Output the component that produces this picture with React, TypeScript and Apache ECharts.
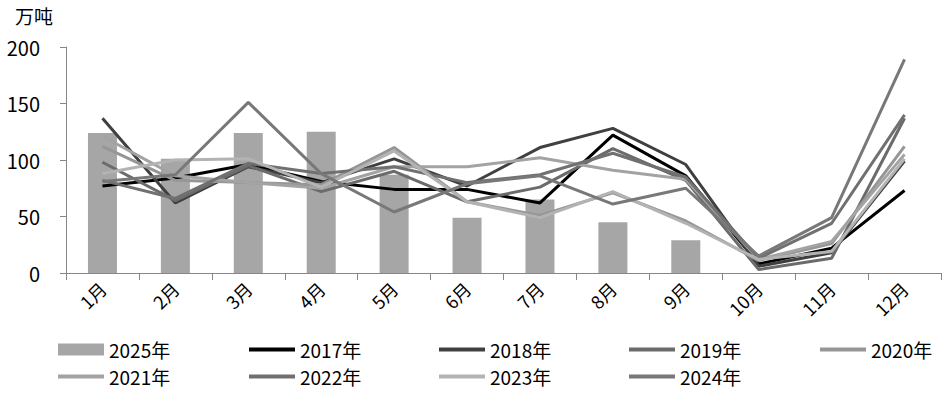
import React, { useEffect, useRef } from "react";
import * as echarts from "echarts";

const months = ["1月", "2月", "3月", "4月", "5月", "6月", "7月", "8月", "9月", "10月", "11月", "12月"];
const yTicks = [0, 50, 100, 150, 200];

const bar2025 = [124, 101, 124, 125, 87, 49, 65, 45, 29];

const y2017 = [77, 84, 96, 81, 74, 74, 62, 122, 86, 8, 22, 73];
const y2018 = [137, 62, 94, 80, 101, 77, 111, 128, 96, 6, 18, 99];
const y2019 = [98, 64, 95, 72, 90, 63, 76, 110, 82, 3, 13, 137];
const y2020 = [112, 82, 80, 78, 111, 63, 51, 71, 46, 11, 26, 112];
const y2021 = [121, 86, 80, 75, 94, 94, 102, 91, 83, 12, 28, 105];
const y2022 = [82, 66, 97, 88, 94, 80, 87, 106, 85, 13, 44, 140];
const y2023 = [88, 100, 101, 76, 108, 63, 49, 72, 44, 12, 19, 101];
const y2024 = [81, 87, 151, 88, 54, 79, 86, 61, 75, 15, 49, 189];

const lineSeries = [
  { name: "2017年", data: y2017, color: "#000000" },
  { name: "2018年", data: y2018, color: "#404040" },
  { name: "2019年", data: y2019, color: "#6b6b6b" },
  { name: "2020年", data: y2020, color: "#969696" },
  { name: "2021年", data: y2021, color: "#a3a3a3" },
  { name: "2022年", data: y2022, color: "#707070" },
  { name: "2023年", data: y2023, color: "#b3b3b3" },
  { name: "2024年", data: y2024, color: "#787878" },
];

const FONT = "'Noto Sans CJK SC', 'Noto Sans', sans-serif";

export default function App() {
  const ref = useRef<HTMLDivElement>(null);
  useEffect(() => {
    if (!ref.current) return;
    const chart = echarts.init(ref.current, null, { renderer: "svg" });
    const legendCols = [58, 249, 439, 629, 820];
    const legendNames = ["2025年", ...lineSeries.map((s) => s.name)];
    const legends = legendNames.map((name, i) => {
      const row = i < 5 ? 0 : 1;
      const col = i < 5 ? i : i - 5;
      const isBar = i === 0;
      return {
        data: [name],
        left: legendCols[col],
        top: row === 0 ? 340 : 367,
        padding: 0,
        icon: "rect",
        itemWidth: 46,
        itemHeight: isBar ? 12 : 4,
        selectedMode: false,
        textStyle: { fontSize: 19, color: "#000", fontFamily: FONT, padding: [0, 0, 0, 0] },
      };
    });
    chart.setOption({
      animation: false,
      textStyle: { fontFamily: FONT },
      grid: { left: 66, right: 7, top: 47, bottom: 123, containLabel: false },
      graphic: [
        {
          type: "text",
          left: 15,
          top: 6,
          style: { text: "万吨", fontSize: 19, fill: "#000", fontFamily: FONT },
        },
      ],
      legend: legends,
      xAxis: {
        type: "category",
        data: months,
        boundaryGap: true,
        axisLine: { lineStyle: { color: "#868686", width: 1 } },
        axisTick: { show: true, length: 7, lineStyle: { color: "#868686" } },
        axisLabel: { rotate: 45, fontSize: 18, color: "#000", margin: 12, fontFamily: FONT, interval: 0 },
      },
      yAxis: {
        type: "value",
        min: yTicks[0],
        max: yTicks[yTicks.length - 1],
        interval: 50,
        axisLine: { show: true, lineStyle: { color: "#868686", width: 1 } },
        axisTick: { show: true, length: 6, lineStyle: { color: "#868686" } },
        splitLine: { show: false },
        axisLabel: { fontSize: 20, color: "#000", margin: 26, fontFamily: FONT },
      },
      series: [
        {
          name: "2025年",
          type: "bar",
          data: bar2025,
          barWidth: 29,
          itemStyle: { color: "#a6a6a6" },
          z: 1,
        },
        ...lineSeries.map((s) => ({
          name: s.name,
          type: "line",
          data: s.data,
          showSymbol: false,
          symbol: "none",
          itemStyle: { color: s.color },
          lineStyle: { color: s.color, width: 3 },
          z: 2,
        })),
      ],
    });
    return () => chart.dispose();
  }, []);
  return <div ref={ref} style={{ width: 948, height: 396, position: "absolute", left: 0, top: 0 }} />;
}
